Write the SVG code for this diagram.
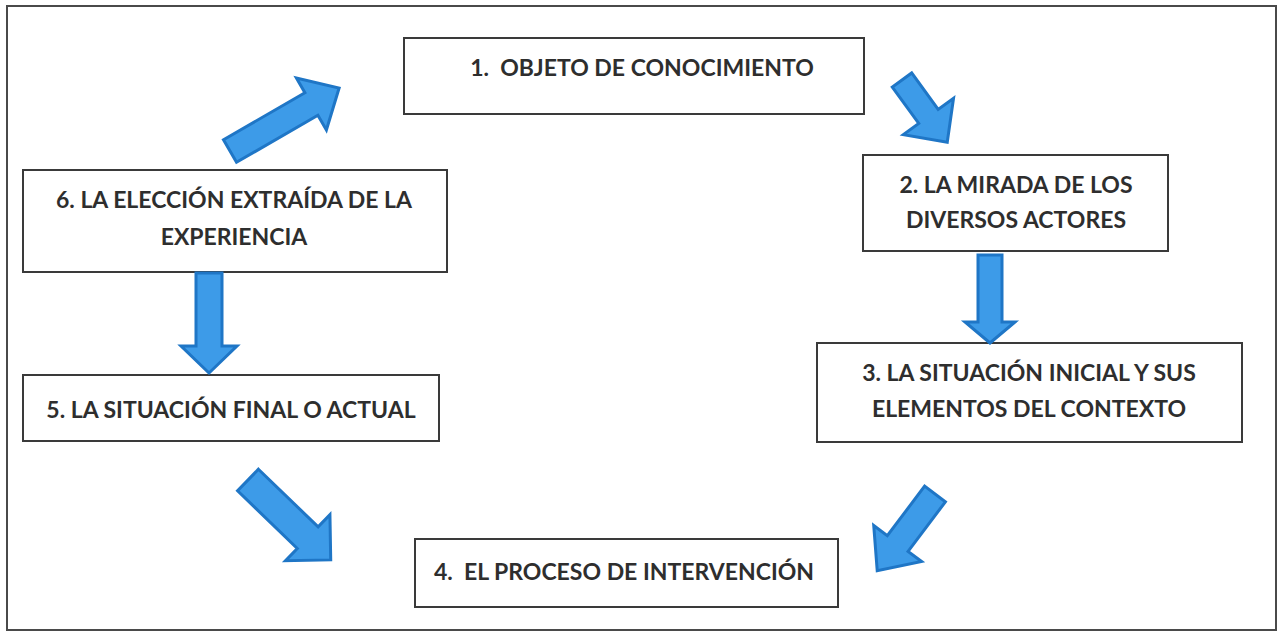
<svg xmlns="http://www.w3.org/2000/svg" width="1282" height="633" viewBox="0 0 1282 633">
<style>
.box{fill:#fff;stroke:#3a3a3a;stroke-width:2}
.frame{fill:#fff;stroke:#4a4a4a;stroke-width:2}
.t{font-family:Lato,"Liberation Sans",sans-serif;font-weight:bold;font-size:23px;fill:#2e2e2e;text-anchor:middle;white-space:pre}
.arr{fill:#3d9be8;stroke:#1f76c6;stroke-width:3;stroke-linejoin:miter}
</style>
<rect class="frame" x="7" y="6" width="1269" height="624"/>
<g id="n1"><rect class="box" x="404" y="38" width="460" height="76"/><text class="t" x="642" y="76" xml:space="preserve">1.  OBJETO DE CONOCIMIENTO</text></g>
<g id="n2"><rect class="box" x="863" y="155" width="305" height="96"/><text class="t" x="1016" y="193">2. LA MIRADA DE LOS</text><text class="t" x="1016" y="228">DIVERSOS ACTORES</text></g>
<g id="n3"><rect class="box" x="817" y="343" width="425" height="99"/><text class="t" x="1029" y="381">3. LA SITUACIÓN INICIAL Y SUS</text><text class="t" x="1029" y="417">ELEMENTOS DEL CONTEXTO</text></g>
<g id="n4"><rect class="box" x="415" y="539" width="423" height="68"/><text class="t" x="624" y="580" xml:space="preserve">4.  EL PROCESO DE INTERVENCIÓN</text></g>
<g id="n5"><rect class="box" x="23" y="375" width="416" height="66"/><text class="t" x="231" y="418">5. LA SITUACIÓN FINAL O ACTUAL</text></g>
<g id="n6"><rect class="box" x="23" y="170" width="424" height="102"/><text class="t" x="234" y="208">6. LA ELECCIÓN EXTRAÍDA DE LA</text><text class="t" x="234" y="245">EXPERIENCIA</text></g>
<g id="connectors">
<polygon class="arr" transform="translate(230,151) rotate(-30)" points="0,-13 94,-13 94,-30 126,0 94,30 94,13 0,13"/>
<polygon class="arr" transform="translate(902,80) rotate(54)" points="0,-12 45,-12 45,-31 77,0 45,31 45,12 0,12"/>
<polygon class="arr" transform="translate(990,255) rotate(90)" points="0,-12 67,-12 67,-25 88,0 67,25 67,12 0,12"/>
<polygon class="arr" transform="translate(209,273) rotate(90)" points="0,-13 73,-13 73,-28 100,0 73,28 73,13 0,13"/>
<polygon class="arr" transform="translate(248,480) rotate(44)" points="0,-15 83,-15 83,-32 115,0 83,32 83,15 0,15"/>
<polygon class="arr" transform="translate(935,494) rotate(127)" points="0,-13 62,-13 62,-30 96,0 62,30 62,13 0,13"/>
</g>
</svg>
